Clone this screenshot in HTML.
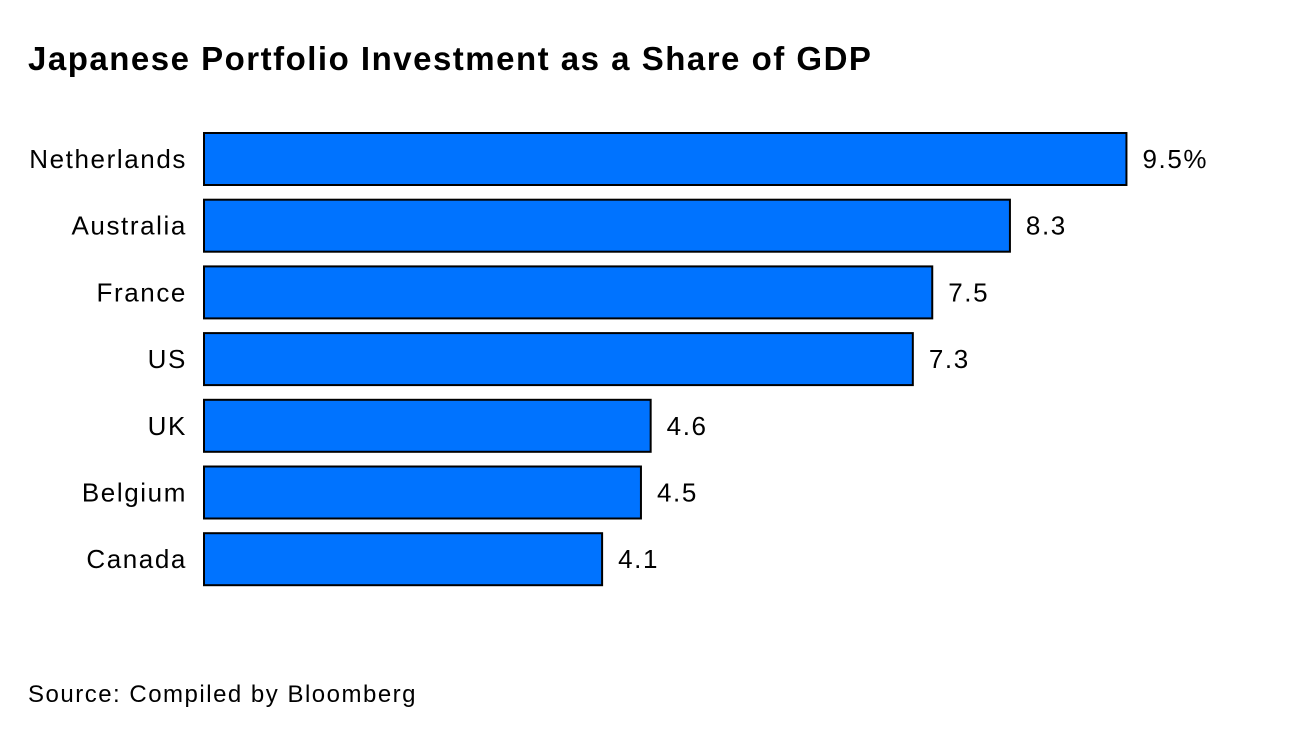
<!DOCTYPE html>
<html><head><meta charset="utf-8">
<style>
body{margin:0;background:#fff;width:1296px;height:736px;overflow:hidden;font-family:"Liberation Sans",sans-serif;}
#title{position:absolute;left:28px;top:40px;font-size:33px;font-weight:bold;color:#000;letter-spacing:1.5px;}
#source{position:absolute;left:28px;top:681px;font-size:24px;color:#000;letter-spacing:1.5px;}
svg{position:absolute;left:0;top:0;}
</style></head><body>
<div id="title">Japanese Portfolio Investment as a Share of GDP</div>
<svg id="chart" width="1296" height="736"></svg>
<div id="source">Source: Compiled by Bloomberg</div>
<script>
const categories=["Netherlands","Australia","France","US","UK","Belgium","Canada"];
const values=[9.5,8.3,7.5,7.3,4.6,4.5,4.1];
const valueLabels=["9.5%","8.3","7.5","7.3","4.6","4.5","4.1"];
const ns="http://www.w3.org/2000/svg";
const svg=document.getElementById('chart');
const x0=204, pxPerUnit=97.1;
const x=v=>x0+v*pxPerUnit;
const y=i=>133+i*66.7;
const bh=52;
categories.forEach((c,i)=>{
  const r=document.createElementNS(ns,'rect');
  r.setAttribute('x',x0);r.setAttribute('y',y(i));
  r.setAttribute('width',x(values[i])-x0);r.setAttribute('height',bh);
  r.setAttribute('fill','#0073ff');r.setAttribute('stroke','#000');r.setAttribute('stroke-width','2');
  
  
  svg.appendChild(r);
  const t=document.createElementNS(ns,'text');
  t.setAttribute('x',187);t.setAttribute('y',y(i)+bh/2+9);
  t.setAttribute('text-anchor','end');t.setAttribute('font-size','26');
  t.setAttribute('letter-spacing','1.6');
  t.textContent=c;
  
  
  svg.appendChild(t);
  const v=document.createElementNS(ns,'text');
  v.setAttribute('x',x(values[i])+16);v.setAttribute('y',y(i)+bh/2+9);
  v.setAttribute('font-size','26');
  v.setAttribute('letter-spacing','1.6');
  v.textContent=valueLabels[i];
  
  
  svg.appendChild(v);
});
</script>
</body></html>
